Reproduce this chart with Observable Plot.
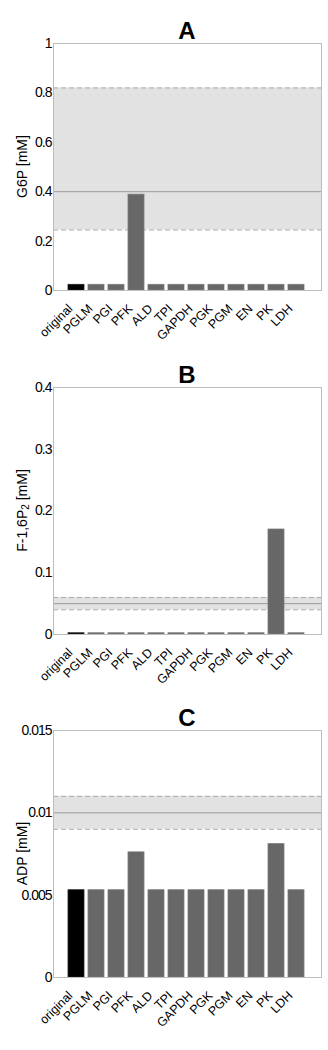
<!DOCTYPE html>
<html><head><meta charset="utf-8">
<script src="https://cdn.jsdelivr.net/npm/d3@7"></script>
<script src="https://cdn.jsdelivr.net/npm/@observablehq/plot@0.6"></script>
<style>
body{margin:0;background:#fff;}
#wrap{position:relative;width:328px;height:1050px;font-family:"Liberation Sans",Arial,Helvetica,sans-serif;}
.title{position:absolute;left:53px;width:268px;text-align:center;font-weight:bold;font-size:24px;line-height:24px;color:#000;}
.panel{position:absolute;left:0;}
</style></head><body><div id="wrap"></div>
<script>
// ---- data ----
const categories = ["original","PGLM","PGI","PFK","ALD","TPI","GAPDH","PGK","PGM","EN","PK","LDH"];
const g6p    = [0.023,0.023,0.023,0.388,0.023,0.023,0.023,0.023,0.023,0.023,0.023,0.023];
const f16p2  = [0.002,0.002,0.002,0.002,0.002,0.002,0.002,0.002,0.002,0.002,0.170,0.002];
const adp    = [0.0053,0.0053,0.0053,0.0076,0.0053,0.0053,0.0053,0.0053,0.0053,0.0053,0.0081,0.0053];
// reference range: [low, nominal, high]
const g6pRange  = [0.245, 0.40, 0.82];
const f16p2Range = [0.04, 0.05, 0.06];
const adpRange  = [0.009, 0.010, 0.011];
const g6pTicks  = [0,0.2,0.4,0.6,0.8,1];
const f16p2Ticks = [0,0.1,0.2,0.3,0.4];
const adpTicks  = [0,0.005,0.01,0.015];

const panels = [
  {letter:"A", values:g6p, range:g6pRange, ticks:g6pTicks, domain:[0,1], label:["G6P [mM]"], top:0, mt:43, mb:60},
  {letter:"B", values:f16p2, range:f16p2Range, ticks:f16p2Ticks, domain:[0,0.4], label:["F-1,6P","2"," [mM]"], top:350, mt:37, mb:66},
  {letter:"C", values:adp, range:adpRange, ticks:adpTicks, domain:[0,0.015], label:["ADP [mM]"], top:700, mt:30, mb:70}
];
const FH = 247;
const FONT = '"Liberation Sans", Arial, Helvetica, sans-serif';
const wrap = document.getElementById("wrap");

for (const p of panels) {
  const data = categories.map((name, i) => ({name, value: p.values[i]}));
  const chart = Plot.plot({
    width: 328,
    height: p.mt + FH + p.mb,
    marginLeft: 53, marginRight: 7, marginTop: p.mt, marginBottom: p.mb,
    style: {fontFamily: FONT, fontSize: "14px", background: "transparent", color: "#000"},
    x: {domain: categories, paddingInner: 0.22, paddingOuter: 0, insetLeft: 11, insetRight: 13, label: null},
    y: {domain: p.domain, label: null},
    marks: [
      Plot.rect([p.range], {y1: d => d[0], y2: d => d[2], fill: "#e2e2e2"}),
      Plot.ruleY([p.range[0], p.range[2]], {stroke: "#aaa", strokeDasharray: "5,3"}),
      Plot.ruleY([p.range[1]], {stroke: "#9a9a9a"}),
      Plot.barY(data, {x: "name", y: "value", fill: d => d.name === "original" ? "#000" : "#676767", stroke: d => d.name === "original" ? "#222" : "#7a7a7a", strokeWidth: 0.8}),
      Plot.frame({stroke: "#bdbdbd"}),
      Plot.axisY({ticks: p.ticks, tickFormat: d => String(+d.toPrecision(6)), tickSize: 0, tickPadding: 2, label: null, fill: "#000", fontSize: 14}),
      Plot.axisX({tickRotate: -45, tickSize: 0, tickPadding: 4, dx: -6, dy: 12, label: null, fill: "#000", fontSize: 12.5})
    ]
  });
  const box = document.createElement("div");
  box.className = "panel";
  box.style.top = p.top + "px";
  box.appendChild(chart);
  wrap.appendChild(box);

  const svg = d3.select(chart);
  // condensed y tick labels as in the reference
  svg.selectAll('g[aria-label="y-axis tick label"] text').style("letter-spacing", "-1px");

  // y label (with subscript support)
  const t = svg.append("text")
    .attr("transform", `translate(22,${p.mt + FH / 2}) rotate(-90)`)
    .attr("text-anchor", "middle")
    .attr("dominant-baseline", "central")
    .attr("font-family", FONT)
    .attr("font-size", 14)
    .attr("fill", "#000");
  if (p.label.length === 1) t.text(p.label[0]);
  else {
    t.append("tspan").text(p.label[0]);
    t.append("tspan").attr("font-size", 10).attr("dy", 3).text(p.label[1]);
    t.append("tspan").attr("dy", -3).text(p.label[2]);
  }

  const title = document.createElement("div");
  title.className = "title";
  title.style.top = (p.top + p.mt - 24) + "px";
  title.textContent = p.letter;
  wrap.appendChild(title);
}
</script></body></html>
